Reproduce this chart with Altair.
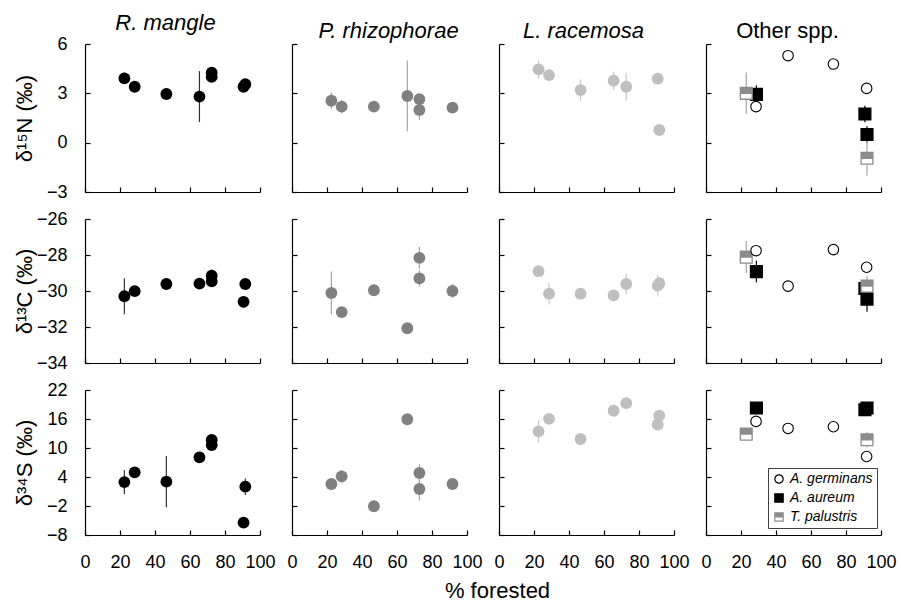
import altair as alt
import pandas as pd

FONT = "Liberation Sans"

# ---------------- data ----------------
# Rhizophora mangle
rm_pct = [22.5, 28.4, 46.5, 65.4, 72.4, 72.4, 90.6, 91.6]
rm_d15N = [3.91, 3.40, 2.96, 2.80, 4.25, 4.00, 3.40, 3.55]
rm_d15N_err = [0.35, 0, 0, 1.55, 0.35, 0, 0, 0]
rm_d13C = [-30.29, -30.01, -29.61, -29.59, -29.15, -29.46, -30.60, -29.61]
rm_d13C_err = [1.0, 0, 0, 0, 0.35, 0, 0.3, 0]
rm_d34S = [2.95, 4.97, 3.03, 8.07, 11.66, 10.62, -5.45, 2.0]
rm_d34S_err = [2.5, 0, 5.3, 0, 0, 0, 0, 1.7]

# Pelliciera rhizophorae
pr_pct = [22.5, 28.4, 46.8, 65.9, 72.8, 72.8, 91.7]
pr_d15N = [2.55, 2.19, 2.19, 2.84, 2.65, 1.99, 2.13]
pr_d15N_err = [0.5, 0.4, 0, 2.15, 0, 0.6, 0]
pr_d13C = [-30.11, -31.17, -29.96, -32.07, -28.16, -29.30, -30.00]
pr_d13C_err = [1.2, 0, 0, 0, 0.6, 0.45, 0.4]
pr_d34S = [2.56, 4.13, -2.06, 15.95, 4.82, 1.52, 2.56]
pr_d34S_err = [0, 1.3, 0, 0, 1.8, 2.4, 0.8]

# Laguncularia racemosa
lr_pct = [22.6, 28.6, 46.6, 65.5, 72.7, 90.7, 91.6]
lr_d15N = [4.46, 4.11, 3.20, 3.77, 3.40, 3.89, 0.77]
lr_d15N_err = [0.55, 0, 0.65, 0.55, 0.85, 0, 0]
lr_d13C = [-28.90, -30.15, -30.15, -30.24, -29.61, -29.70, -29.57]
lr_d13C_err = [0, 0.6, 0, 0, 0.6, 0.6, 0]
lr_d34S = [13.43, 16.02, 11.86, 17.71, 19.28, 14.86, 16.69]
lr_d34S_err = [2.3, 0, 0, 0, 0, 1.0, 0]

# Other spp.
ag_pct = [28.6, 46.9, 72.8, 91.8]          # A. germinans
ag_d15N = [2.19, 5.29, 4.78, 3.30]
ag_d13C = [-27.76, -29.73, -27.70, -28.68]
ag_d34S = [15.5, 14.05, 14.4, 8.24]

aa_pct = [28.8, 90.8, 92.0]                # A. aureum
aa_d15N = [2.94, 1.74, 0.50]
aa_d15N_err = [0.55, 0.5, 0.5]
aa_d13C = [-28.92, -29.86, -30.45]
aa_d13C_err = [0.6, 0, 0.7]
aa_d34S = [18.27, 17.92, 18.27]
aa_d34S_err = [0, 0, 0]

tp_pct = [23.0, 92.0]                      # T. palustris
tp_d15N = [3.0, -0.95]
tp_d15N_err = [1.26, 1.05]
tp_d13C = [-28.12, -29.73]
tp_d13C_err = [0.9, 0.55]
tp_d34S = [12.87, 11.7]
tp_d34S_err = [0, 1.6]

X_TICKS = [0, 20, 40, 60, 80, 100]
ROWS = [
    {"key": "N", "domain": [-3, 6], "ticks": [-3, 0, 3, 6], "title": "δ¹⁵N (‰)", "h": 148},
    {"key": "C", "domain": [-34, -26], "ticks": [-34, -32, -30, -28, -26], "title": "δ¹³C (‰)", "h": 144},
    {"key": "S", "domain": [-8, 22], "ticks": [-8, -2, 4, 10, 16, 22], "title": "δ³⁴S (‰)", "h": 145},
]

MAIN = [
    ("R. mangle", rm_pct, {"N": (rm_d15N, rm_d15N_err), "C": (rm_d13C, rm_d13C_err), "S": (rm_d34S, rm_d34S_err)},
     "black", "#333333", -7),
    ("P. rhizophorae", pr_pct, {"N": (pr_d15N, pr_d15N_err), "C": (pr_d13C, pr_d13C_err), "S": (pr_d34S, pr_d34S_err)},
     "#808080", "#a6a6a6", 9),
    ("L. racemosa", lr_pct, {"N": (lr_d15N, lr_d15N_err), "C": (lr_d13C, lr_d13C_err), "S": (lr_d34S, lr_d34S_err)},
     "#bfbfbf", "#c8c8c8", -3),
]

OTHER = {
    "A. germinans": (ag_pct, {"N": (ag_d15N, [0] * 4), "C": (ag_d13C, [0] * 4), "S": (ag_d34S, [0] * 4)}),
    "A. aureum": (aa_pct, {"N": (aa_d15N, aa_d15N_err), "C": (aa_d13C, aa_d13C_err), "S": (aa_d34S, aa_d34S_err)}),
    "T. palustris": (tp_pct, {"N": (tp_d15N, tp_d15N_err), "C": (tp_d13C, tp_d13C_err), "S": (tp_d34S, tp_d34S_err)}),
}
SPECIES = ["A. germinans", "A. aureum", "T. palustris"]

# half-filled square (top half hatched solid, bottom half open)
TP_PATH = ("M-1,-1H1V1H-1Z M-1,-0.9H1 M-1,-0.8H1 M-1,-0.7H1 M-1,-0.6H1 M-1,-0.5H1 "
           "M-1,-0.4H1 M-1,-0.3H1 M-1,-0.2H1 M-1,-0.1H1 M-1,0H1")

W = 175
TICK_IN = {"expr": "-5"}
IND = dict(x="independent", y="independent", shape="independent", fill="independent", stroke="independent")


def frame(pct, vals, errs, sp=None):
    df = pd.DataFrame({"pct": pct, "v": vals, "err": errs})
    df["lo"] = df["v"] - df["err"]
    df["hi"] = df["v"] + df["err"]
    if sp is not None:
        df["sp"] = sp
    return df


def x_axis(labels):
    kw = dict(values=X_TICKS, title=None, grid=False,
              domainColor="black", domainWidth=1.2, tickColor="black", tickWidth=1.2,
              tickSize=TICK_IN)
    if labels:
        return alt.Axis(**kw, labelFont=FONT, labelFontSize=18, labelColor="black",
                        labelPadding=23, labelOverlap=False, labelFlush=False, format="d")
    return alt.Axis(**kw, labels=False, minExtent=0, maxExtent=0)


def y_axis(row, first):
    kw = dict(values=row["ticks"], grid=False, domainColor="black", domainWidth=1.2,
              tickColor="black", tickWidth=1.2, tickSize=TICK_IN)
    if first:
        return alt.Axis(**kw, title=row["title"], titleFont=FONT, titleFontSize=22,
                        titleFontWeight="normal", titleColor="black", titlePadding=6,
                        labelFont=FONT, labelFontSize=18, labelColor="black", labelPadding=23,
                        minExtent=43, maxExtent=43, labelOverlap=False, labelFlush=False, format="d")
    return alt.Axis(**kw, title=None, labels=False, minExtent=0, maxExtent=0)


def encs(row, ri, ci):
    xs = alt.Scale(domain=[0, 100], nice=False)
    ys = alt.Scale(domain=row["domain"], nice=False, zero=False)
    xe = alt.X("pct:Q", scale=xs, axis=x_axis(ri == 2))
    ye = alt.Y("v:Q", scale=ys, axis=y_axis(row, ci == 0))
    ylo = alt.Y("lo:Q", scale=ys, axis=y_axis(row, ci == 0))
    return xe, ye, ylo


def title_params(text, dx, italic=True):
    return alt.TitleParams(text=text, font=FONT, fontSize=22, fontStyle="italic" if italic else "normal",
                           fontWeight="normal", color="black", offset=0, anchor="middle", dx=dx)


def main_panel(spec, row, ri, ci):
    name, pct, vals, fill, bar, dx = spec
    v, e = vals[row["key"]]
    df = frame(pct, v, e)
    xe, ye, ylo = encs(row, ri, ci)
    layers = []
    dfe = df[df["err"] > 0]
    if len(dfe):
        layers.append(alt.Chart(dfe).mark_rule(color=bar, strokeWidth=1.2).encode(x=xe, y=ylo, y2="hi:Q"))
    layers.append(alt.Chart(df).mark_circle(size=140, color=fill, opacity=1).encode(x=xe, y=ye))
    ch = alt.layer(*layers).properties(width=W, height=row["h"])
    if ri == 0:
        ch = ch.properties(title=title_params(name, dx))
    return ch


def other_panel(row, ri, ci):
    xe, ye, ylo = encs(row, ri, ci)
    leg = None
    if ri == 2:
        leg = alt.Legend(title=None, orient="none", legendX=62, legendY=78, direction="vertical",
                         strokeColor="#404040", fillColor="white", padding=4,
                         labelFont=FONT, labelFontSize=14, labelFontStyle="italic", labelColor="black",
                         labelOffset=4, rowPadding=5, symbolSize=70, symbolStrokeWidth=1.2)
    shape = alt.Shape("sp:N", scale=alt.Scale(domain=SPECIES, range=["circle", "square", TP_PATH]), legend=leg)
    fillc = alt.Fill("sp:N", scale=alt.Scale(domain=SPECIES, range=["white", "black", "white"]), legend=leg)
    strokec = alt.Stroke("sp:N", scale=alt.Scale(domain=SPECIES, range=["black", "black", "#8c8c8c"]), legend=leg)

    frames = {}
    for sp in SPECIES:
        pct, d = OTHER[sp]
        v, e = d[row["key"]]
        frames[sp] = frame(pct, v, e, sp)

    layers = []
    for sp, col in [("A. aureum", "black"), ("T. palustris", "#a6a6a6")]:
        dfe = frames[sp][frames[sp]["err"] > 0]
        if len(dfe):
            layers.append(alt.Chart(dfe).mark_rule(color=col, strokeWidth=1.2).encode(x=xe, y=ylo, y2="hi:Q"))
    sq = pd.concat([frames["A. aureum"], frames["T. palustris"]], ignore_index=True)
    layers.append(alt.Chart(sq).mark_point(filled=True, size=140, opacity=1, strokeWidth=1.3)
                  .encode(x=xe, y=ye, shape=shape, fill=fillc, stroke=strokec))
    layers.append(alt.Chart(frames["A. germinans"]).mark_point(filled=True, size=110, opacity=1, strokeWidth=1.1)
                  .encode(x=xe, y=ye, shape=shape, fill=fillc, stroke=strokec))
    ch = alt.layer(*layers).properties(width=W, height=row["h"])
    if ri == 0:
        ch = ch.properties(title=title_params("Other spp.", -6, italic=False))
    return ch


panels = []
for ri, row in enumerate(ROWS):
    panels += [main_panel(spec, row, ri, ci) for ci, spec in enumerate(MAIN)]
    panels.append(other_panel(row, ri, 3))

chart = (
    alt.concat(*panels, columns=4, spacing={"row": 27, "column": 32}, bounds="flush")
    .resolve_scale(**IND)
    .resolve_axis(x="independent", y="independent")
    .resolve_legend(shape="independent", fill="independent", stroke="independent")
    .properties(
        title=alt.TitleParams(text="% forested", orient="bottom", anchor="middle", font=FONT, fontSize=22,
                              fontWeight="normal", color="black", offset=10, dx=43),
        padding={"left": 13, "top": 12, "right": 0, "bottom": 0},
        background="white",
    )
    .configure(font=FONT)
    .configure_view(strokeWidth=0)
)

chart.save("out.html", embed_options={"renderer": "svg", "actions": False})
